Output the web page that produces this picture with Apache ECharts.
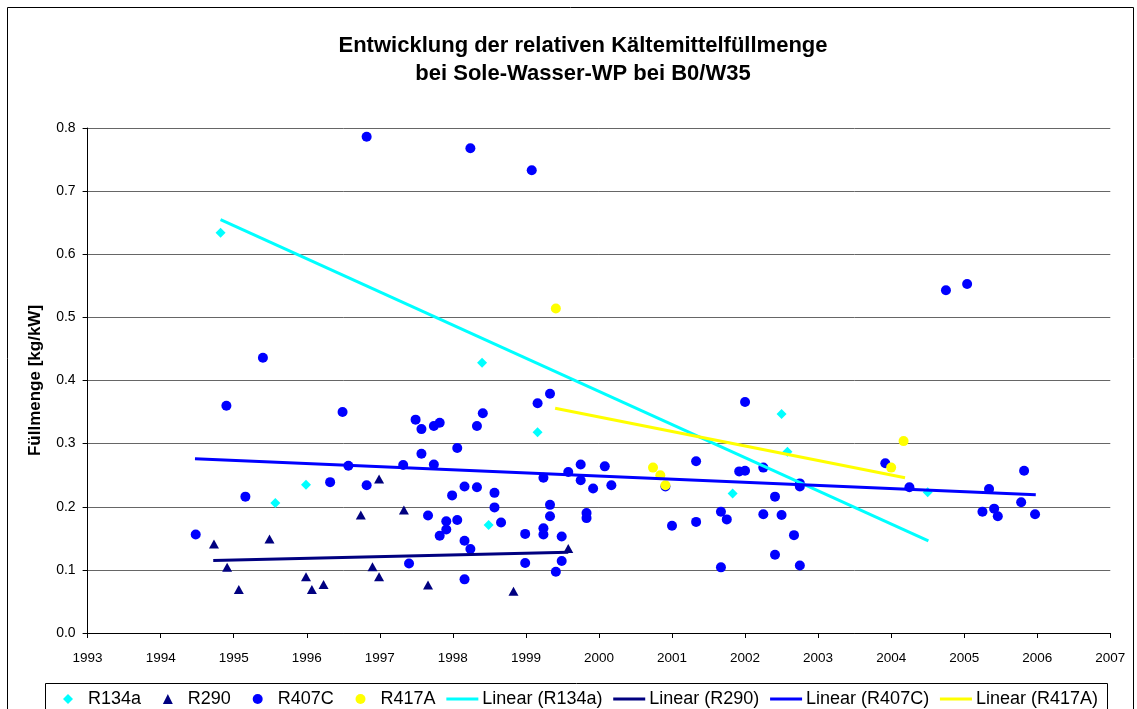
<!DOCTYPE html>
<html>
<head>
<meta charset="utf-8">
<script src="https://cdn.jsdelivr.net/npm/echarts@6/dist/echarts.min.js"></script>
<style>
html,body{margin:0;padding:0;background:#fff;}
#chart{width:1137px;height:709px;}
</style>
</head>
<body>
<div id="chart"></div>
<script>
// ---- Data ----
const titleLines = ['Entwicklung der relativen Kältemittelfüllmenge', 'bei Sole-Wasser-WP bei B0/W35'];
const yAxisTitle = 'Füllmenge [kg/kW]';
const seriesNames = ['R134a', 'R290', 'R407C', 'R417A'];
const trendNames = ['Linear (R134a)', 'Linear (R290)', 'Linear (R407C)', 'Linear (R417A)'];

const r134aX = [1994.82, 1995.57, 1995.99, 1998.40, 1998.49, 1999.16, 2001.83, 2002.50, 2002.58, 2004.50];
const r134aY = [0.634, 0.206, 0.235, 0.428, 0.171, 0.318, 0.221, 0.347, 0.287, 0.223];

const r290X = [1994.73, 1994.91, 1995.07, 1995.49, 1995.99, 1996.07, 1996.23, 1996.74, 1996.90, 1996.99, 1996.99, 1997.33, 1997.66, 1998.83, 1999.58];
const r290Y = [0.141, 0.104, 0.069, 0.149, 0.089, 0.069, 0.077, 0.187, 0.105, 0.244, 0.089, 0.195, 0.076, 0.066, 0.134];

const r407cX = [1994.48, 1994.90, 1995.16, 1995.40, 1996.32, 1996.49, 1996.57, 1996.82, 1996.82, 1997.32,
                1997.40, 1997.49, 1997.57, 1997.57, 1997.66, 1997.74, 1997.82, 1997.74, 1997.82, 1997.91,
                1997.91, 1997.99, 1998.06, 1998.06, 1998.16, 1998.33, 1998.16, 1998.24, 1998.16, 1998.24,
                1998.33, 1998.41, 1998.57, 1998.57, 1998.66, 1998.99, 1998.99, 1999.08, 1999.16, 1999.33,
                1999.24, 1999.24, 1999.24, 1999.33, 1999.33, 1999.49, 1999.49, 1999.41, 1999.58, 1999.75,
                1999.75, 1999.92, 1999.83, 1999.83, 2000.08, 2000.17, 2000.91, 2001.00, 2001.33, 2001.33,
                2001.67, 2001.75, 2001.67, 2001.92, 2002.00, 2002.00, 2002.25, 2002.25, 2002.41, 2002.50,
                2002.41, 2002.67, 2002.75, 2002.75, 2002.75, 2003.92, 2004.25, 2004.75, 2005.04, 2005.34,
                2005.25, 2005.41, 2005.46, 2005.78, 2005.82, 2005.97];
const r407cY = [0.156, 0.360, 0.216, 0.436, 0.239, 0.350, 0.265, 0.786, 0.234, 0.266,
                0.110, 0.338, 0.323, 0.284, 0.186, 0.328, 0.333, 0.267, 0.154, 0.177,
                0.164, 0.218, 0.293, 0.179, 0.232, 0.231, 0.146, 0.133, 0.085, 0.768,
                0.328, 0.348, 0.222, 0.199, 0.175, 0.157, 0.111, 0.733, 0.364, 0.379,
                0.246, 0.166, 0.156, 0.203, 0.185, 0.153, 0.114, 0.097, 0.255, 0.267,
                0.242, 0.229, 0.190, 0.182, 0.264, 0.234, 0.232, 0.170, 0.272, 0.176,
                0.192, 0.180, 0.104, 0.256, 0.257, 0.366, 0.262, 0.188, 0.216, 0.187,
                0.124, 0.155, 0.237, 0.232, 0.107, 0.269, 0.231, 0.543, 0.553, 0.228,
                0.192, 0.197, 0.185, 0.207, 0.257, 0.188];

const r417aX = [1999.41, 2000.74, 2000.84, 2000.91, 2004.00, 2004.17];
const r417aY = [0.514, 0.262, 0.250, 0.234, 0.262, 0.304];

// trend line end points as drawn in the reference
const trendR134aX = [1994.82, 2004.51];
const trendR134aY = [0.655, 0.146];
const trendR290X = [1994.72, 1999.58];
const trendR290Y = [0.115, 0.128];
const trendR407cX = [1994.47, 2005.98];
const trendR407cY = [0.276, 0.219];
const trendR417aX = [1999.40, 2004.19];
const trendR417aY = [0.356, 0.246];

const xMin = 1993, xMax = 2007, xStep = 1;
const yMin = 0, yMax = 0.8, yStep = 0.1;

const colors = ['#00FFFF', '#000080', '#0000FF', '#FFFF00'];

// ---- Build ----
const zip = (xs, ys) => xs.map((x, i) => [x, ys[i]]);
const FONT = "'Liberation Sans', Arial, sans-serif";

const chart = echarts.init(document.getElementById('chart'), null, {renderer: 'canvas'});

const scatterDefs = [
  {name: seriesNames[0], data: zip(r134aX, r134aY), symbol: 'diamond', symbolSize: 10, color: colors[0]},
  {name: seriesNames[1], data: zip(r290X, r290Y), symbol: 'triangle', symbolSize: [10, 9], color: colors[1]},
  {name: seriesNames[2], data: zip(r407cX, r407cY), symbol: 'circle', symbolSize: 10, color: colors[2]},
  {name: seriesNames[3], data: zip(r417aX, r417aY), symbol: 'circle', symbolSize: 10, color: colors[3]}
];
const trendDefs = [
  {name: trendNames[0], data: zip(trendR134aX, trendR134aY), color: colors[0]},
  {name: trendNames[1], data: zip(trendR290X, trendR290Y), color: colors[1]},
  {name: trendNames[2], data: zip(trendR407cX, trendR407cY), color: colors[2]},
  {name: trendNames[3], data: zip(trendR417aX, trendR417aY), color: colors[3]}
];

const series = [];
scatterDefs.forEach((d, i) => series.push({
  type: 'scatter', name: d.name, data: d.data, symbol: d.symbol, symbolSize: d.symbolSize,
  itemStyle: {color: d.color, opacity: 1}, z: 2 + i * 0.01, silent: true
}));
trendDefs.forEach((d, i) => series.push({
  type: 'line', name: d.name, data: d.data, symbol: 'none', showSymbol: false,
  lineStyle: {color: d.color, width: 3}, itemStyle: {color: d.color}, z: 3 + i * 0.01, silent: true
}));

// ---- Legend layout (Excel style: equal key slots, then text) ----
const legendFontSize = 18;
const legendFont = {fontFamily: FONT, fontSize: legendFontSize, color: '#000'};
const legendTop = 690, legendStart = 52, legendEnd = 1098;
const keyW = 32, keyTextGap = 4;
const measureCtx = document.createElement('canvas').getContext('2d');
measureCtx.font = legendFontSize + "px 'Liberation Sans', Arial, sans-serif";
const allNames = seriesNames.concat(trendNames);
const textW = allNames.map(n => measureCtx.measureText(n).width);
const usedW = allNames.length * (keyW + keyTextGap) + textW.reduce((a, b) => a + b, 0);
const entryGap = (legendEnd - legendStart - usedW) / (allNames.length - 1);
const legends = [];
let cursor = legendStart;
allNames.forEach((n, i) => {
  const isMarker = i < seriesNames.length;
  if (isMarker) {
    legends.push({
      data: [{name: n}], left: cursor + keyW / 2 - 5, top: legendTop, itemWidth: 10, itemHeight: 10,
      padding: 0, selectedMode: false,
      textStyle: Object.assign({padding: [0, 0, 0, keyW / 2 - 5 + keyTextGap - 5]}, legendFont)
    });
  } else {
    legends.push({
      data: [{name: n, icon: 'rect'}], left: cursor, top: legendTop, itemWidth: keyW, itemHeight: 3,
      padding: 0, selectedMode: false,
      textStyle: Object.assign({padding: [0, 0, 0, keyTextGap - 5]}, legendFont)
    });
  }
  cursor += keyW + keyTextGap + textW[i] + entryGap;
});

const option = {
  animation: false,
  backgroundColor: '#ffffff',
  textStyle: {fontFamily: FONT},
  title: {
    text: titleLines.join('\n'),
    left: 578, top: 27, textAlign: 'center',
    textStyle: {fontFamily: FONT, fontSize: 22, fontWeight: 'bold', color: '#000', lineHeight: 28}
  },
  grid: {left: 87.6, right: 26.7, top: 128, bottom: 76, containLabel: false, outerBoundsMode: 'none'},
  xAxis: {
    type: 'value', min: xMin, max: xMax, interval: xStep,
    axisLine: {show: true, onZero: false, lineStyle: {color: '#000', width: 1}},
    axisTick: {show: true, inside: false, length: 5, lineStyle: {color: '#000'}},
    axisLabel: {color: '#000', fontSize: 13.5, fontFamily: FONT, margin: 18, formatter: v => String(v)},
    splitLine: {show: false}
  },
  yAxis: {
    type: 'value', min: yMin, max: yMax, interval: yStep,
    name: yAxisTitle, nameLocation: 'middle', nameGap: 44,
    nameTextStyle: {fontFamily: FONT, fontSize: 17, fontWeight: 'bold', color: '#000'},
    axisLine: {show: true, lineStyle: {color: '#000', width: 1}},
    axisTick: {show: true, inside: false, length: 5, lineStyle: {color: '#000'}},
    axisLabel: {color: '#000', fontSize: 14, fontFamily: FONT, margin: 12, formatter: v => v.toFixed(1)},
    splitLine: {show: true, lineStyle: {color: '#666666', width: 1}}
  },
  legend: legends,
  graphic: [
    {type: 'rect', shape: {x: 7.5, y: 7.5, width: 1126, height: 720}, style: {fill: 'none', stroke: '#000', lineWidth: 1}, silent: true, z: -1},
    {type: 'rect', shape: {x: 45.5, y: 683.5, width: 1062, height: 40}, style: {fill: 'none', stroke: '#000', lineWidth: 1}, silent: true, z: -1}
  ],
  series: series
};
chart.setOption(option);
</script>
</body>
</html>
